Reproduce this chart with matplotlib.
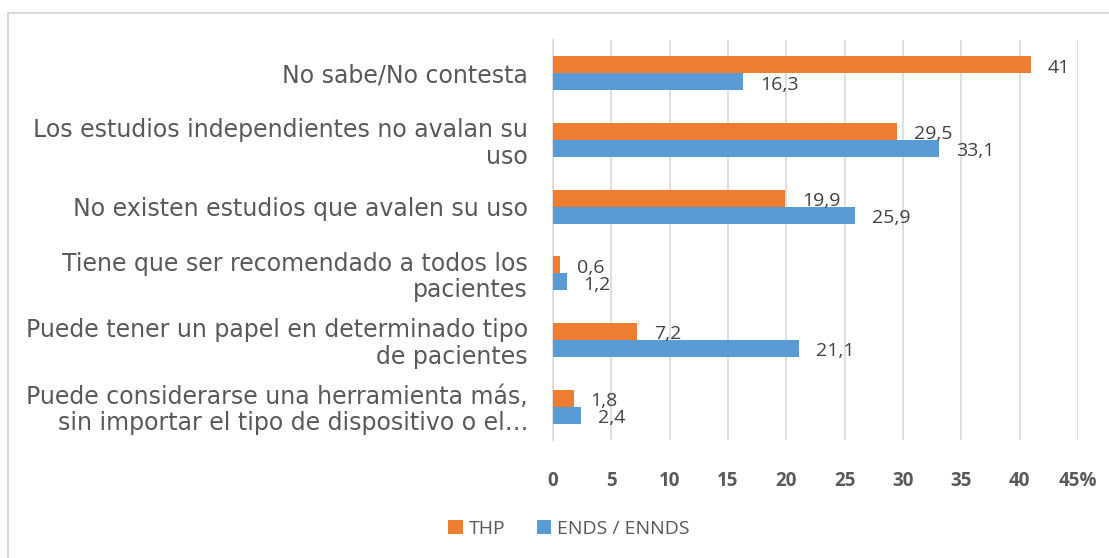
import matplotlib
matplotlib.use("Agg")
import matplotlib.pyplot as plt
from matplotlib.lines import Line2D
import numpy as np

categories = [
    "No sabe/No contesta",
    "Los estudios independientes no avalan su\nuso",
    "No existen estudios que avalen su uso",
    "Tiene que ser recomendado a todos los\npacientes",
    "Puede tener un papel en determinado tipo\nde pacientes",
    "Puede considerarse una herramienta más,\nsin importar el tipo de dispositivo o el…",
]
thp = [41, 29.5, 19.9, 0.6, 7.2, 1.8]
ends = [16.3, 33.1, 25.9, 1.2, 21.1, 2.4]
series_names = ["THP", "ENDS / ENNDS"]
xticks = [0, 5, 10, 15, 20, 25, 30, 35, 40, 45]

orange = "#ED7D31"
blue = "#5B9BD5"

fig = plt.figure(figsize=(11.09, 5.58), dpi=100)
ax = fig.add_axes([553/1109, 1-440/558, (1078-553)/1109, 400/558])

y = np.arange(len(categories))
h = 0.255
ax.barh(y - h/2, thp, height=h, color=orange, label=series_names[0], zorder=3)
ax.barh(y + h/2, ends, height=h, color=blue, label=series_names[1], zorder=3)

def fmt(v):
    return ("%g" % v).replace(".", ",")

for yi, v in zip(y, thp):
    ax.annotate(fmt(v), (v, yi - h/2), xytext=(12, -2), textcoords="offset points",
                va="center", ha="left", fontsize=14, color="#404040", family="Open Sans")
for yi, v in zip(y, ends):
    ax.annotate(fmt(v), (v, yi + h/2), xytext=(12, -2), textcoords="offset points",
                va="center", ha="left", fontsize=14, color="#404040", family="Open Sans")

ax.set_ylim(len(categories) - 0.5, -0.5)
ax.set_xlim(0, 45)
ax.set_xticks(xticks)
ax.set_xticklabels([str(t) if t != 45 else "45%" for t in xticks],
                   fontsize=13.5, fontweight="bold", color="#595959", family="Open Sans")
ax.set_yticks(y)
ax.set_yticklabels(categories, fontsize=17, color="#595959", family="DejaVu Sans",
                   ha="right", linespacing=1.12)
ax.tick_params(axis="y", length=0, pad=18)
ax.tick_params(axis="x", length=0, pad=22)
ax.grid(axis="x", color="#D9D9D9", linewidth=1.2, zorder=0)
for s in ["top", "right", "bottom"]:
    ax.spines[s].set_visible(False)
ax.spines["left"].set_color("#D9D9D9")
ax.spines["left"].set_linewidth(1.2)

leg = fig.legend(loc="center", bbox_to_anchor=(569/1109, 1-529/558), ncol=2, frameon=False,
                 prop={"family": "Open Sans", "size": 14}, handlelength=0.75, handleheight=0.75,
                 columnspacing=1.6, handletextpad=0.3)
for t in leg.get_texts():
    t.set_color("#595959")

# chart-area border (top and left edges visible in the reference)
fig.add_artist(Line2D([8/1109, 1.0], [1-12.5/558, 1-12.5/558], transform=fig.transFigure,
                      color="#D9D9D9", linewidth=1.5))
fig.add_artist(Line2D([8/1109, 8/1109], [0.0, 1-12.5/558], transform=fig.transFigure,
                      color="#D9D9D9", linewidth=1.5))

fig.savefig("out.png", dpi=100)
